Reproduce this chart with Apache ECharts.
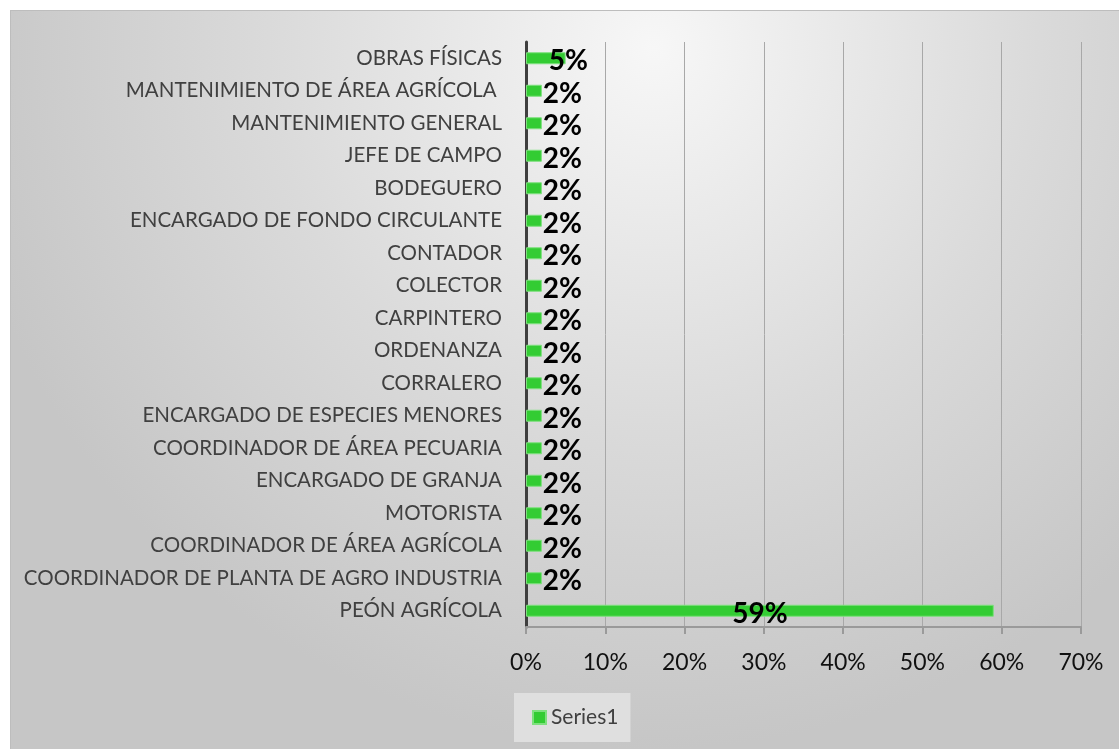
<!DOCTYPE html>
<html>
<head>
<meta charset="utf-8">
<script src="https://cdn.jsdelivr.net/npm/echarts@6/dist/echarts.min.js"></script>
<style>
  html, body { margin: 0; padding: 0; background: #ffffff; }
  #main { position: absolute; left: 10px; top: 10px; width: 1109px; height: 739px;
          border-top: 1px solid #bdbdbd; border-left: 1px solid #bdbdbd; box-sizing: border-box; }
</style>
</head>
<body>
<div id="main"></div>
<script type="text/javascript">
  // categorias (de abajo hacia arriba, como las pinta el eje)
  var categories = [
    'PEÓN AGRÍCOLA',
    'COORDINADOR DE PLANTA DE AGRO INDUSTRIA',
    'COORDINADOR DE ÁREA AGRÍCOLA',
    'MOTORISTA',
    'ENCARGADO DE GRANJA',
    'COORDINADOR DE ÁREA PECUARIA',
    'ENCARGADO DE ESPECIES MENORES',
    'CORRALERO',
    'ORDENANZA',
    'CARPINTERO',
    'COLECTOR',
    'CONTADOR',
    'ENCARGADO DE FONDO CIRCULANTE',
    'BODEGUERO',
    'JEFE DE CAMPO',
    'MANTENIMIENTO GENERAL',
    'MANTENIMIENTO DE ÁREA AGRÍCOLA ',
    'OBRAS FÍSICAS'
  ];
  // porcentaje por cargo
  var series1 = [59, 2, 2, 2, 2, 2, 2, 2, 2, 2, 2, 2, 2, 2, 2, 2, 2, 5];
  var xTicks = [0, 10, 20, 30, 40, 50, 60, 70];

  var fontFam = "'Lato', sans-serif";

  // etiquetas: la grande va centrada, las chicas al final de la barra
  var barData = series1.map(function (v) {
    var lab;
    if (v > 30) {
      lab = { position: 'inside', offset: [0, 3] };
    } else if (v > 3) {
      lab = { position: 'right', distance: -17, offset: [0, 3] };
    } else {
      lab = { position: 'right', distance: 1, offset: [0, 3] };
    }
    return { value: v, label: lab };
  });

  var myChart = echarts.init(document.getElementById('main'));
  var option = {
    animation: false,
    backgroundColor: {
      type: 'radial', x: 0.58, y: 0.05, r: 0.95,
      colorStops: [
        { offset: 0, color: '#f7f7f7' },
        { offset: 0.55, color: '#dadada' },
        { offset: 1, color: '#c6c6c6' }
      ]
    },
    grid: { left: 515, right: 38, top: 31, bottom: 122, containLabel: false, outerBoundsMode: 'none' },
    legend: {
      data: ['Series1'],
      left: 503, top: 682,
      backgroundColor: '#dfdfdf',
      padding: [14, 12, 14, 18],
      itemWidth: 13, itemHeight: 13, itemGap: 6,
      icon: 'rect',
      textStyle: { color: '#404040', fontSize: 21, fontFamily: fontFam }
    },
    xAxis: {
      type: 'value',
      min: xTicks[0], max: xTicks[xTicks.length - 1], interval: 10,
      axisLine: { show: true, lineStyle: { color: '#9a9a9a', width: 2 } },
      axisTick: { show: true, length: 7, lineStyle: { color: '#9a9a9a', width: 2 } },
      splitLine: { show: true, lineStyle: { color: '#a8a8a8', width: 1 } },
      axisLabel: {
        margin: 24, color: '#111111', fontSize: 23, fontFamily: fontFam,
        formatter: '{value}%'
      }
    },
    yAxis: {
      type: 'category',
      data: categories,
      axisLine: { show: true, lineStyle: { color: '#3f3f3f', width: 3 } },
      axisTick: { show: false },
      axisLabel: { margin: 24, color: '#404040', fontSize: 20.5, fontFamily: fontFam }
    },
    series: [{
      name: 'Series1',
      type: 'bar',
      barWidth: 12,
      data: barData,
      itemStyle: { color: '#33cc33', borderColor: '#7ee07e', borderWidth: 1 },
      label: {
        show: true,
        color: '#000000',
        fontWeight: 'bold',
        fontSize: 28,
        fontFamily: fontFam,
        formatter: '{c}%'
      }
    }]
  };
  myChart.setOption(option);
</script>
</body>
</html>
